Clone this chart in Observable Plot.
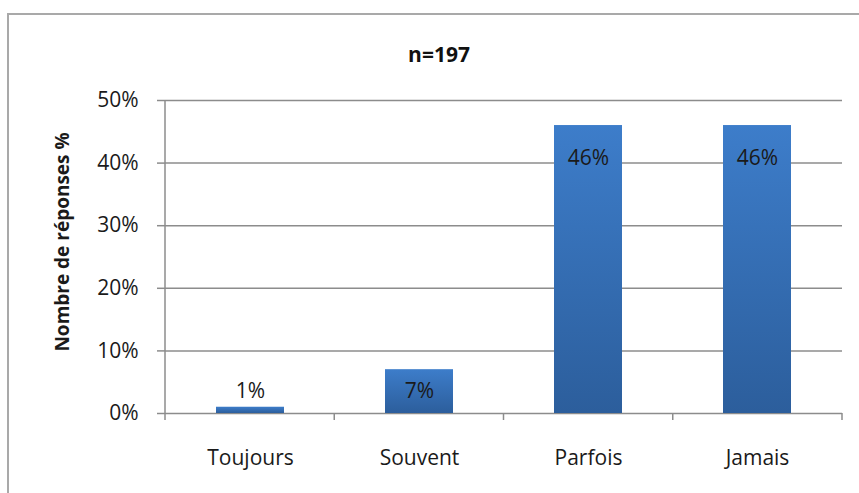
<!DOCTYPE html>
<html><head><meta charset="utf-8">
<script src="https://cdn.jsdelivr.net/npm/d3@7"></script>
<script src="https://cdn.jsdelivr.net/npm/@observablehq/plot@0.6"></script>
<style>
body{margin:0;width:859px;height:493px;overflow:hidden;background:#fff;font-family:"Open Sans",sans-serif;position:relative}
#frame{position:absolute;left:7px;top:13px;width:900px;height:600px;border:2px solid #a9a9a9;box-sizing:border-box}
#title{position:absolute;left:0;width:878px;top:39px;text-align:center;font-weight:bold;font-size:21px;color:#111;line-height:30px}
#chart{position:absolute;left:0;top:80px}
</style></head><body>
<div id="frame"></div>
<div id="title">n=197</div>
<div id="chart"></div>
<script>
const categories = ["Toujours", "Souvent", "Parfois", "Jamais"];
const values = [1, 7, 46, 46];
const valueLabels = ["1%", "7%", "46%", "46%"];
const yTicks = [0, 10, 20, 30, 40, 50];
const yTickLabels = ["0%", "10%", "20%", "30%", "40%", "50%"];
const yLabel = "Nombre de réponses %";

const data = categories.map((c, i) => ({cat: c, v: values[i], label: valueLabels[i]}));
const big = data.filter(d => d.v >= 10);
const small = data.filter(d => d.v < 10);
const gridColor = "#8c8c8c";
const textColor = "#1a1a1a";

function extras(index, scales, values, dim) {
  const ns = "http://www.w3.org/2000/svg";
  const g = document.createElementNS(ns, "g");
  const defs = document.createElementNS(ns, "defs");
  defs.innerHTML = `<linearGradient id="barGrad" x1="0" y1="0" x2="0" y2="1">
    <stop offset="0" stop-color="#3d7dca"/>
    <stop offset="1" stop-color="#2c5e9c"/></linearGradient>`;
  g.appendChild(defs);
  const yTop = dim.marginTop, y0 = dim.height - dim.marginBottom;
  const left = dim.marginLeft, right = dim.width - dim.marginRight;
  const mk = (x1, y1, x2, y2) => {
    const l = document.createElementNS(ns, "line");
    l.setAttribute("x1", x1); l.setAttribute("y1", y1);
    l.setAttribute("x2", x2); l.setAttribute("y2", y2);
    l.setAttribute("stroke", gridColor); l.setAttribute("stroke-width", 1.5);
    g.appendChild(l);
  };
  mk(left, yTop, left, y0 + 7);
  const step = (right - left) / categories.length;
  categories.forEach((c, i) => {
    const bx = left + step * (i + 1);
    mk(bx, y0, bx, y0 + 7);
  });
  return g;
}

const chart = Plot.plot({
  width: 859,
  height: 413,
  marginLeft: 165,
  marginRight: 17,
  marginTop: 20,
  marginBottom: 80,
  style: {fontFamily: "'Open Sans', sans-serif", color: textColor, background: "transparent", overflow: "visible"},
  x: {domain: categories, paddingInner: 0.6, paddingOuter: 0.3, label: null},
  y: {domain: [0, 50], label: null},
  marks: [
    Plot.ruleY(yTicks, {y: d => d, stroke: gridColor, strokeWidth: 1.5}),
    Plot.axisY(yTicks, {tickSize: 8, tickPadding: 19, stroke: gridColor, strokeWidth: 1.5, strokeOpacity: 1,
      fontSize: 21, fill: textColor, label: null, tickFormat: d => yTickLabels[yTicks.indexOf(d)]}),
    Plot.axisX({tickSize: 0, tickPadding: 37, fontSize: 21, fill: textColor, label: null}),
    Plot.barY(data, {x: "cat", y: "v", fill: "url(#barGrad)"}),
    extras,
    Plot.text(big, {x: "cat", y: "v", text: "label", dy: 33, fontSize: 21, fill: textColor}),
    Plot.text(small, {x: "cat", y: d => Math.max(d.v, 7) / 2, text: "label", fontSize: 21, fill: textColor}),
    Plot.text([yLabel], {frameAnchor: "left", textAnchor: "middle", text: d => d, rotate: -90, dx: -103, dy: -15,
      fontSize: 19, fontWeight: "bold", fill: textColor})
  ]
});
document.getElementById("chart").appendChild(chart);
</script>
</body></html>
